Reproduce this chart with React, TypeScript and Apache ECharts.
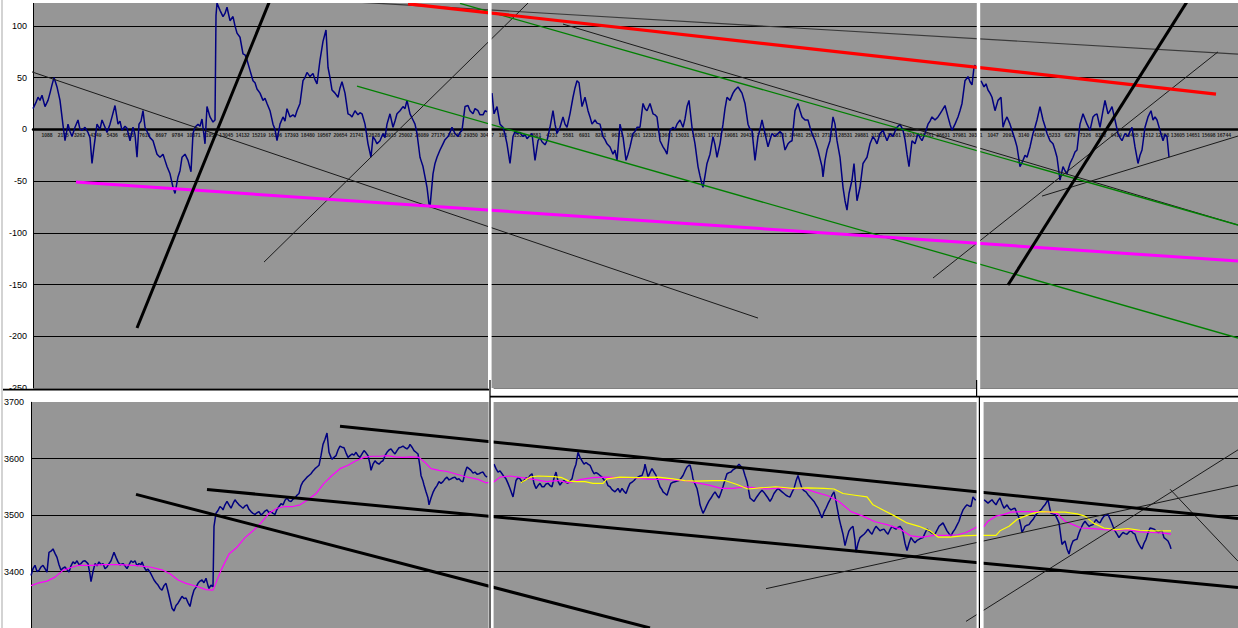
import React, { useEffect, useRef } from 'react';
import * as echarts from 'echarts';

type P = [number, number];

// ---------- upper chart: oscillator (units), three stitched windows ----------
const TOP_P1: P[] = [[33,20],[36,26],[38,31],[40,28],[42,33],[45,22],[48,28],[50,35],[52,43],[54,50],[56,44],[57,41],[60,28],[63,4],[65,-11],[68,5],[70,-2],[72,-7],[75,2],[78,9],[80,0],[82,-1],[85,2],[88,-3],[90,-8],[92,-33],[94,-17],[97,5],[100,0],[102,9],[105,2],[107,-3],[110,5],[112,12],[115,23],[118,5],[120,8],[122,-1],[125,3],[127,1],[130,-11],[133,2],[135,-5],[137,-27],[139,5],[141,8],[143,18],[145,2],[148,-4],[150,-8],[153,-11],[157,-24],[160,-27],[163,-24],[165,-30],[167,-36],[170,-43],[173,-56],[175,-62],[178,-46],[180,-40],[182,-27],[185,-24],[188,-30],[191,-41],[193,-4],[195,2],[198,5],[200,3],[202,10],[205,-14],[207,22],[210,12],[213,7],[215,9],[216,110],[217,122],[220,115],[223,109],[225,112],[227,118],[230,105],[233,109],[235,100],[237,93],[240,89],[243,73],[245,72],[247,67],[250,57],[253,47],[255,45],[257,39],[260,35],[263,28],[265,30],[267,25],[270,18],[273,5],[275,0],[277,-11],[280,5],[283,12],[285,8],[287,20],[290,12],[293,14],[295,12],[297,18],[300,25],[303,47],[305,50],[307,55],[310,51],[313,54],[315,48],[317,44],[320,67],[323,85],[326,96],[328,60],[330,50],[332,38],[335,35],[338,31],[340,40],[342,46],[345,35],[348,15],[350,14],[352,12],[355,18],[358,14],[360,16],[362,15],[365,5],[368,-14],[371,-27],[373,-7],[375,-10],[377,-14],[380,-11],[383,-4],[385,-8],[387,5],[390,15],[393,2],[395,8],[397,15],[400,18],[403,22],[405,20],[407,28],[410,15],[413,9],[415,5],[417,-4],[420,-27],[421,-30],[423,-36],[425,-46],[427,-56],[429,-72],[430,-75],[433,-43],[435,-33],[437,-27],[440,-20],[443,-14],[445,-10],[448,-7],[450,-3],[452,2],[455,-4],[458,-7],[460,-3],[462,-1],[465,22],[468,23],[470,18],[473,15],[475,20],[478,18],[480,14],[483,14],[485,18],[487,17]];

const TOP_P2: P[] = [[492,35],[494,15],[497,22],[500,5],[503,2],[505,-5],[507,-14],[510,-33],[513,-7],[515,-2],[517,-4],[520,-3],[523,-7],[525,-5],[527,-9],[530,-6],[532,-4],[535,-30],[538,-11],[540,-8],[542,-12],[545,-15],[547,-11],[550,2],[553,18],[555,5],[557,-4],[560,2],[563,12],[565,5],[567,2],[570,15],[573,31],[575,40],[577,47],[579,45],[582,22],[585,31],[588,18],[590,12],[592,5],[595,9],[597,6],[600,5],[603,-7],[605,-10],[607,-14],[610,-17],[613,-24],[615,-20],[617,-30],[620,5],[623,-7],[626,-30],[628,-24],[630,-17],[633,-4],[635,-2],[637,2],[640,2],[643,25],[645,20],[647,18],[650,25],[653,15],[655,14],[657,12],[660,-11],[663,-17],[665,-20],[667,-24],[670,-1],[673,2],[675,0],[677,5],[680,9],[683,2],[685,10],[687,22],[689,28],[692,2],[695,-14],[698,-36],[700,-45],[702,-53],[703,-56],[705,-45],[707,-33],[710,-24],[713,-7],[715,-15],[717,-27],[720,-14],[723,5],[725,20],[727,31],[730,28],[733,35],[735,38],[738,41],[740,38],[742,35],[745,25],[748,5],[750,0],[752,-1],[755,-30],[758,-7],[760,0],[762,9],[765,-4],[768,-17],[770,-10],[772,-4],[775,-7],[778,-4],[780,-2],[782,-4],[785,-20],[788,-14],[790,-12],[792,-11],[795,18],[798,25],[800,18],[802,12],[805,9],[808,9],[810,2],[812,-4],[815,-11],[818,-20],[820,-28],[822,-36],[823,-46],[825,-30],[827,-20],[830,-11],[833,12],[835,5],[837,-11],[840,-27],[843,-56],[845,-69],[847,-78],[849,-62],[852,-49],[854,-33],[857,-69],[860,-56],[863,-33],[865,-30],[867,-27],[870,-14],[873,-7],[875,-10],[877,-14],[880,-4],[883,-1],[885,-6],[887,-11],[890,-4],[893,-7],[895,-2],[897,2],[900,5],[903,-1],[905,-10],[907,-24],[909,-36],[912,-11],[915,-14],[918,-4],[920,-8],[922,-11],[925,-4],[928,5],[930,8],[932,12],[935,9],[938,12],[940,15],[942,18],[945,23],[948,12],[950,5],[952,-1],[955,5],[958,12],[960,18],[962,25],[965,47],[968,51],[970,46],[972,43],[974,60],[975,62],[976,59]];

const TOP_P3: P[] = [[981,47],[984,41],[986,44],[988,38],[990,35],[992,31],[995,18],[998,28],[1001,31],[1003,2],[1005,8],[1007,12],[1010,5],[1013,-4],[1015,-10],[1017,-17],[1020,-36],[1023,-30],[1025,-25],[1027,-27],[1030,-17],[1033,-4],[1035,2],[1037,9],[1040,22],[1043,9],[1045,3],[1047,-4],[1050,-11],[1053,-14],[1055,-20],[1057,-27],[1060,-49],[1063,-36],[1065,-40],[1067,-43],[1070,-33],[1073,-27],[1075,-22],[1077,-20],[1080,5],[1083,15],[1085,10],[1087,5],[1090,-1],[1093,12],[1095,14],[1097,15],[1100,2],[1103,18],[1105,28],[1108,15],[1110,18],[1112,22],[1115,9],[1118,-4],[1120,-8],[1122,-11],[1125,-4],[1128,-7],[1130,-2],[1132,2],[1135,-17],[1138,-33],[1140,-25],[1142,-20],[1145,2],[1148,12],[1151,18],[1153,9],[1155,12],[1157,9],[1160,-1],[1163,-11],[1165,-5],[1167,-7],[1169,-27]];

// trend lines of the upper chart, [start, end] in (time, value)
const TOP_THIN_LINES: [P, P][] = [
  [[264,-128.3],[531,124.9]],
  [[563,101.7],[1238,-92.5]],
  [[933,-143.7],[1218,74.9]],
  [[1042,-64.5],[1238,-6.5]],
];
const TOP_LONG_THIN: [P, P] = [[3,65.0],[758,-182.4]];
const TOP_GRAY_LINE: [P, P] = [[362,122.7],[1238,72.7]];
const TOP_THICK_LINES: [P, P][] = [
  [[137,-192.0],[270,124.9]],
  [[1008,-150.5],[1188,124.9]],
];
const TOP_RED_LINE: [P, P] = [[408,121.3],[1216,34.1]];
const TOP_GREEN_LINES: [P, P][] = [
  [[460,121.7],[1238,-92.5]],
  [[357,41.8],[1238,-201.7]],
];
const TOP_MAGENTA_LINE: [P, P] = [[76,-51.0],[1238,-127.3]];

const TOP_Y_TICKS = [-250, -200, -150, -100, -50, 0, 50, 100];

// tiny row-number labels printed under the zero line, one list per window
const TICKS_P1 = ['1088','2175','3262','4349','5436','6523','7610','8697','9784','10871','11958','13045','14132','15219','16306','17393','18480','19567','20654','21741','22828','23915','25002','26089','27176','28263','29350','30437'];
const TICKS_P2 = ['181','1531','2881','4231','5581','6931','8281','9631','10981','12331','13681','15031','16381','17731','19081','20431','21781','23131','24481','25831','27181','28531','29881','31231','32581','33931','35281','36631','37981','39331'];
const TICKS_P3 = ['1047','2093','3140','4186','5233','6279','7326','8372','9419','10465','11512','12558','13605','14651','15698','16744'];

// ---------- lower chart: price, three stitched windows ----------
const BOT_P1: P[] = [[31,3393],[33,3405],[35,3411],[37,3400],[39,3402],[41,3408],[43,3411],[45,3405],[47,3399],[49,3434],[51,3436],[53,3440],[55,3432],[57,3425],[59,3412],[61,3402],[63,3406],[65,3408],[67,3403],[69,3399],[71,3410],[73,3417],[75,3414],[77,3419],[79,3412],[81,3414],[83,3418],[85,3419],[88,3414],[90,3395],[91,3382],[93,3400],[95,3414],[97,3410],[99,3417],[101,3412],[103,3414],[105,3405],[107,3408],[109,3414],[111,3419],[114,3434],[116,3425],[118,3417],[120,3412],[123,3414],[125,3410],[127,3405],[129,3412],[131,3419],[133,3416],[135,3419],[137,3410],[139,3414],[141,3412],[142,3417],[144,3408],[146,3402],[148,3404],[150,3399],[152,3392],[154,3385],[156,3380],[158,3376],[160,3370],[162,3367],[164,3375],[166,3379],[168,3365],[170,3350],[172,3335],[174,3330],[176,3340],[178,3344],[180,3350],[182,3356],[184,3352],[186,3353],[188,3345],[190,3338],[192,3355],[194,3367],[196,3372],[198,3379],[200,3383],[202,3385],[204,3380],[206,3388],[208,3375],[209,3370],[211,3376],[213,3373],[214,3480],[215,3492],[216,3503],[218,3508],[220,3515],[222,3512],[223,3509],[225,3518],[227,3524],[229,3518],[231,3512],[233,3520],[235,3527],[237,3522],[239,3518],[241,3515],[243,3512],[245,3516],[247,3518],[249,3510],[251,3506],[253,3503],[255,3501],[257,3504],[259,3506],[261,3500],[263,3503],[265,3507],[267,3509],[269,3504],[271,3506],[273,3503],[275,3501],[277,3510],[279,3515],[281,3520],[283,3518],[285,3526],[287,3530],[289,3525],[291,3524],[293,3528],[295,3530],[297,3535],[299,3538],[301,3552],[303,3559],[305,3563],[307,3567],[309,3570],[311,3573],[313,3578],[315,3582],[317,3585],[319,3588],[321,3605],[323,3625],[325,3634],[327,3645],[329,3611],[331,3602],[332,3599],[334,3602],[336,3605],[338,3615],[340,3622],[342,3620],[344,3619],[346,3610],[348,3602],[350,3605],[352,3608],[354,3606],[356,3611],[358,3605],[360,3602],[362,3608],[364,3614],[366,3610],[368,3605],[370,3590],[371,3579],[373,3590],[375,3596],[377,3592],[379,3590],[381,3594],[383,3596],[385,3605],[387,3611],[389,3615],[391,3617],[393,3612],[395,3608],[397,3614],[399,3619],[401,3620],[403,3622],[405,3619],[407,3617],[409,3621],[410,3625],[412,3620],[414,3614],[416,3611],[418,3608],[420,3585],[421,3570],[423,3560],[424,3553],[426,3541],[428,3530],[429,3518],[431,3530],[433,3540],[435,3547],[437,3552],[439,3559],[441,3556],[443,3559],[445,3564],[447,3567],[449,3562],[451,3564],[453,3566],[455,3567],[457,3563],[459,3564],[461,3560],[463,3559],[465,3575],[467,3585],[469,3582],[471,3579],[473,3574],[475,3576],[477,3572],[479,3573],[481,3575],[483,3576],[485,3570],[487,3567]];

const BOT_P2: P[] = [[494,3590],[496,3582],[498,3576],[500,3578],[502,3573],[504,3568],[506,3564],[508,3556],[510,3547],[513,3532],[516,3561],[518,3566],[520,3564],[522,3558],[524,3561],[526,3566],[528,3564],[530,3570],[532,3573],[534,3556],[536,3547],[538,3552],[540,3556],[542,3550],[544,3550],[546,3555],[548,3556],[550,3552],[552,3550],[554,3565],[556,3576],[558,3560],[560,3553],[562,3558],[564,3561],[566,3558],[568,3556],[570,3560],[572,3564],[574,3580],[576,3590],[578,3611],[580,3602],[582,3596],[584,3590],[586,3593],[588,3590],[590,3588],[592,3580],[594,3573],[596,3575],[598,3573],[600,3570],[602,3567],[604,3562],[606,3561],[608,3552],[610,3550],[612,3545],[615,3541],[618,3547],[620,3540],[622,3547],[624,3542],[626,3538],[628,3548],[630,3556],[632,3558],[634,3561],[636,3565],[638,3567],[640,3569],[642,3570],[644,3580],[645,3590],[647,3575],[648,3567],[650,3575],[652,3582],[654,3576],[656,3570],[658,3560],[660,3550],[662,3545],[663,3541],[665,3538],[667,3535],[669,3546],[671,3556],[673,3558],[675,3559],[677,3560],[679,3561],[681,3565],[683,3570],[685,3578],[687,3585],[689,3588],[690,3588],[692,3575],[693,3564],[695,3555],[697,3547],[699,3530],[700,3518],[702,3508],[703,3503],[705,3510],[707,3518],[709,3525],[711,3530],[713,3536],[715,3541],[717,3535],[719,3530],[721,3540],[723,3550],[725,3562],[727,3573],[729,3575],[731,3576],[733,3580],[735,3582],[737,3586],[739,3590],[741,3586],[743,3582],[745,3570],[747,3559],[749,3540],[750,3530],[752,3527],[754,3524],[756,3530],[758,3535],[760,3540],[762,3544],[764,3540],[766,3535],[768,3530],[770,3524],[772,3530],[774,3538],[776,3543],[778,3547],[780,3544],[782,3541],[784,3538],[786,3535],[788,3533],[790,3532],[792,3540],[794,3547],[796,3560],[798,3570],[800,3558],[802,3547],[804,3543],[806,3541],[808,3536],[810,3532],[812,3528],[814,3524],[816,3518],[818,3512],[820,3503],[822,3495],[824,3505],[826,3512],[828,3520],[830,3527],[832,3535],[834,3541],[836,3524],[838,3505],[839,3495],[841,3480],[843,3466],[845,3446],[847,3460],[849,3472],[851,3477],[853,3480],[855,3455],[856,3434],[858,3450],[860,3460],[862,3463],[864,3466],[866,3470],[868,3475],[870,3470],[872,3466],[874,3474],[876,3480],[878,3476],[880,3472],[882,3474],[884,3475],[886,3470],[888,3466],[890,3474],[892,3480],[894,3477],[896,3475],[898,3478],[900,3480],[902,3475],[903,3469],[905,3450],[907,3437],[909,3450],[911,3460],[913,3455],[915,3451],[917,3455],[919,3457],[921,3459],[923,3460],[925,3468],[927,3475],[929,3472],[931,3469],[933,3467],[935,3466],[937,3473],[939,3480],[941,3483],[943,3486],[945,3479],[947,3472],[949,3467],[951,3463],[953,3470],[955,3475],[957,3482],[959,3489],[961,3500],[963,3509],[965,3514],[967,3518],[969,3516],[971,3515],[973,3532],[975,3527],[976,3527]];

const BOT_P3: P[] = [[984,3527],[986,3524],[988,3521],[990,3524],[992,3527],[994,3522],[996,3518],[998,3525],[1000,3530],[1002,3520],[1004,3512],[1006,3516],[1007,3518],[1009,3512],[1011,3509],[1013,3511],[1015,3512],[1017,3503],[1019,3495],[1021,3480],[1022,3469],[1024,3476],[1025,3480],[1027,3482],[1029,3483],[1031,3488],[1033,3492],[1035,3498],[1037,3503],[1039,3506],[1041,3509],[1043,3514],[1045,3518],[1047,3524],[1048,3527],[1050,3510],[1051,3503],[1053,3502],[1055,3501],[1057,3494],[1059,3486],[1061,3460],[1062,3448],[1064,3452],[1065,3454],[1067,3440],[1069,3431],[1071,3445],[1073,3454],[1075,3456],[1077,3457],[1079,3468],[1081,3477],[1083,3484],[1085,3489],[1087,3484],[1089,3480],[1091,3482],[1093,3483],[1095,3489],[1096,3492],[1098,3488],[1100,3486],[1102,3493],[1104,3498],[1106,3500],[1108,3501],[1110,3493],[1111,3489],[1113,3480],[1115,3472],[1117,3466],[1119,3460],[1121,3465],[1123,3469],[1125,3467],[1127,3466],[1129,3470],[1131,3472],[1133,3468],[1135,3466],[1137,3455],[1139,3448],[1141,3442],[1142,3440],[1144,3450],[1146,3457],[1148,3468],[1150,3477],[1152,3476],[1154,3475],[1156,3472],[1158,3469],[1160,3471],[1162,3472],[1164,3460],[1166,3457],[1168,3454],[1170,3446],[1171,3440]];

const BOT_MA_MAGENTA: P[] = [[31,3375],[39,3380],[47,3383],[55,3390],[63,3402],[71,3407],[79,3411],[91,3411],[103,3412],[119,3412],[134,3411],[150,3408],[162,3403],[170,3396],[178,3385],[186,3379],[198,3373],[206,3368],[213,3367],[221,3402],[229,3431],[237,3443],[245,3460],[253,3472],[261,3486],[269,3503],[277,3512],[285,3515],[293,3515],[300,3518],[308,3527],[316,3538],[324,3556],[332,3570],[340,3582],[348,3588],[356,3596],[364,3602],[372,3604],[380,3604],[387,3605],[395,3603],[403,3602],[411,3603],[419,3602],[425,3593],[431,3582],[439,3579],[447,3577],[455,3573],[463,3569],[470,3566],[478,3563],[486,3557],[494,3559],[500,3567],[510,3569],[522,3566],[534,3563],[546,3559],[558,3561],[569,3557],[581,3563],[593,3566],[605,3567],[618,3566],[634,3566],[650,3563],[665,3563],[685,3561],[697,3557],[709,3553],[721,3547],[733,3547],[745,3550],[756,3548],[768,3546],[780,3548],[792,3546],[804,3547],[816,3540],[828,3534],[839,3524],[851,3506],[863,3498],[875,3488],[887,3483],[899,3476],[911,3463],[922,3461],[934,3464],[946,3464],[958,3465],[966,3469],[976,3478],[984,3480],[988,3489],[996,3498],[1004,3501],[1011,3505],[1021,3506],[1033,3506],[1045,3506],[1057,3503],[1065,3489],[1073,3483],[1081,3477],[1093,3476],[1104,3474],[1116,3473],[1128,3474],[1140,3470],[1152,3469],[1164,3468],[1171,3466]];

const BOT_MA_YELLOW: P[] = [[521,3557],[530,3567],[538,3569],[554,3568],[562,3566],[569,3560],[577,3559],[585,3559],[593,3556],[603,3556],[607,3564],[620,3567],[638,3566],[658,3567],[673,3564],[685,3561],[697,3560],[713,3561],[725,3561],[737,3554],[748,3546],[760,3548],[776,3550],[792,3547],[808,3548],[824,3547],[834,3546],[843,3538],[855,3535],[867,3532],[873,3518],[883,3509],[895,3498],[907,3486],[919,3480],[930,3472],[938,3461],[950,3461],[962,3463],[976,3464],[984,3464],[996,3464],[1000,3472],[1009,3480],[1017,3492],[1025,3498],[1033,3503],[1041,3506],[1053,3505],[1065,3505],[1077,3502],[1085,3498],[1093,3486],[1104,3477],[1116,3474],[1128,3476],[1140,3473],[1152,3472],[1164,3472],[1171,3472]];

const BOT_THICK_LINES: [P, P][] = [
  [[136,3536.5],[650,3300]],
  [[207,3545.2],[1238,3371.8]],
  [[340,3657.0],[1238,3493.6]],
];
const BOT_THIN_LINES: [P, P][] = [
  [[766,3369.6],[1238,3552.7]],
  [[966,3311.7],[1238,3615.3]],
  [[1170,3545.7],[1238,3418.3]],
];
const BOT_Y_TICKS = [3400, 3500, 3600, 3700];

// ---------- chart ----------
const NAVY = '#000080';
const PLOT_BG = '#969696';
const FONT = 'Liberation Sans, Arial, sans-serif';

function lineSeries(data: P[], xi: number, color: string, width: number, extra: any = {}) {
  return {
    type: 'line',
    xAxisIndex: xi,
    yAxisIndex: xi,
    data,
    showSymbol: false,
    symbol: 'none',
    silent: true,
    lineStyle: { color, width },
    ...extra,
  };
}

function tickLabelData(labels: string[], start: number, step: number) {
  return labels.map((s, i) => [start + i * step, 0, s]);
}

function buildOption() {
  const series: any[] = [];
  // upper data
  [TOP_P1, TOP_P2, TOP_P3].forEach((d) => series.push(lineSeries(d, 0, NAVY, 1.5)));
  // upper trend lines
  series.push(lineSeries(TOP_LONG_THIN, 0, '#1a1a1a', 1, { clip: false }));
  series.push(lineSeries(TOP_GRAY_LINE, 0, '#3a3a3a', 1.2));
  TOP_THIN_LINES.forEach((l) => series.push(lineSeries(l, 0, '#1a1a1a', 1)));
  TOP_GREEN_LINES.forEach((l) => series.push(lineSeries(l, 0, '#008000', 1.3)));
  series.push(lineSeries(TOP_MAGENTA_LINE, 0, '#ff00ff', 3));
  series.push(lineSeries(TOP_RED_LINE, 0, '#ff0000', 3.2));
  TOP_THICK_LINES.forEach((l) => series.push(lineSeries(l, 0, '#000000', 3)));
  // tiny row labels along the zero axis
  const tickData = [
    ...tickLabelData(TICKS_P1, 47, 16.3),
    ...tickLabelData(TICKS_P2, 503, 16.3),
    ...tickLabelData(TICKS_P3, 993, 15.4),
  ];
  series.push({
    type: 'scatter',
    xAxisIndex: 0,
    yAxisIndex: 0,
    data: tickData,
    symbolSize: 1,
    itemStyle: { color: 'rgba(0,0,0,0)' },
    silent: true,
    label: {
      show: true,
      position: 'bottom',
      distance: 3,
      formatter: (p: any) => p.data[2],
      fontSize: 5,
      fontWeight: 'bold',
      fontFamily: FONT,
      color: '#000',
    },
  });
  // lower data
  [BOT_P1, BOT_P2, BOT_P3].forEach((d) => series.push(lineSeries(d, 1, NAVY, 1.5)));
  series.push(lineSeries(BOT_MA_MAGENTA, 1, '#ff00ff', 1.2));
  series.push(lineSeries(BOT_MA_YELLOW, 1, '#ffff00', 1.2));
  BOT_THIN_LINES.forEach((l) => series.push(lineSeries(l, 1, '#1a1a1a', 1)));
  BOT_THICK_LINES.forEach((l) => series.push(lineSeries(l, 1, '#000000', 3)));

  const W = 1238;
  const white = '#ffffff';
  const rect = (x: number, y: number, w: number, h: number, fill: string) => ({
    type: 'rect', z: 100, silent: true, shape: { x, y, width: w, height: h }, style: { fill },
  });
  const seg = (x1: number, y1: number, x2: number, y2: number, stroke: string, lw: number) => ({
    type: 'line', z: 101, silent: true, shape: { x1, y1, x2, y2 }, style: { stroke, lineWidth: lw },
  });

  return {
    animation: false,
    backgroundColor: '#ffffff',
    grid: [
      { left: 33, right: 0, top: 0, height: 388, show: true, backgroundColor: PLOT_BG, borderWidth: 0 },
      { left: 31, right: 0, top: 402, height: 230, show: true, backgroundColor: PLOT_BG, borderWidth: 0 },
    ],
    xAxis: [
      {
        type: 'value', gridIndex: 0, min: 33, max: 1238,
        axisLine: { show: true, onZero: true, lineStyle: { color: '#000', width: 2.5 } },
        axisTick: { show: false }, axisLabel: { show: false }, splitLine: { show: false },
      },
      {
        type: 'value', gridIndex: 1, min: 31, max: 1238,
        axisLine: { show: false }, axisTick: { show: false }, axisLabel: { show: false }, splitLine: { show: false },
      },
    ],
    yAxis: [
      {
        type: 'value', gridIndex: 0, min: -250, max: 125, interval: 50,
        axisLine: { show: true, lineStyle: { color: '#000', width: 1 } },
        axisTick: { show: false },
        axisLabel: {
          margin: 6, fontSize: 9, fontFamily: FONT, color: '#000',
          formatter: (v: number) => (TOP_Y_TICKS.includes(v) ? String(v) : ''),
        },
        splitLine: { show: true, showMaxLine: false, lineStyle: { color: '#000', width: 1 } },
      },
      {
        type: 'value', gridIndex: 1, min: 3300, max: 3700, interval: 100,
        axisLine: { show: true, lineStyle: { color: '#000', width: 1 } },
        axisTick: { show: false },
        axisLabel: {
          margin: 7, fontSize: 9, fontFamily: FONT, color: '#000',
          formatter: (v: number) => (BOT_Y_TICKS.includes(v) ? String(v) : ''),
        },
        splitLine: { show: true, showMaxLine: false, lineStyle: { color: '#000', width: 1 } },
      },
    ],
    graphic: [
      // top crop strip
      rect(33, 0, W - 33, 3, white),
      // window separators, upper row
      rect(488, 0, 3.6, 389, white),
      rect(976.8, 0, 3.4, 389, white),
      // band between the two charts
      rect(31, 388.4, W - 31, 13.4, white),
      rect(0, 390, 31, 6.5, white),
      seg(3, 389.6, 489, 389.6, '#000', 1.6),
      seg(490, 396.6, W, 396.6, '#000', 1.6),
      // window separators, lower row
      rect(488.6, 388, 5, 240, white),
      seg(490, 380, 490, 628, '#000', 1.2),
      rect(976.6, 397, 7, 231, white),
      seg(976.6, 380, 976.6, 396, '#000', 1.2),
      seg(979.4, 396, 979.4, 628, '#000', 1.2),
      // window border at far left
      seg(2, 0, 2, 628, '#c4c4c4', 1.5),
    ],
    series,
  };
}

export default function App() {
  const ref = useRef<HTMLDivElement>(null);
  useEffect(() => {
    if (!ref.current) return;
    const chart = echarts.init(ref.current, null, { renderer: 'svg' });
    chart.setOption(buildOption() as any);
    return () => chart.dispose();
  }, []);
  return (
    <div
      ref={ref}
      style={{ position: 'fixed', left: 0, top: 0, width: 1238, height: 628, background: '#fff' }}
    />
  );
}
